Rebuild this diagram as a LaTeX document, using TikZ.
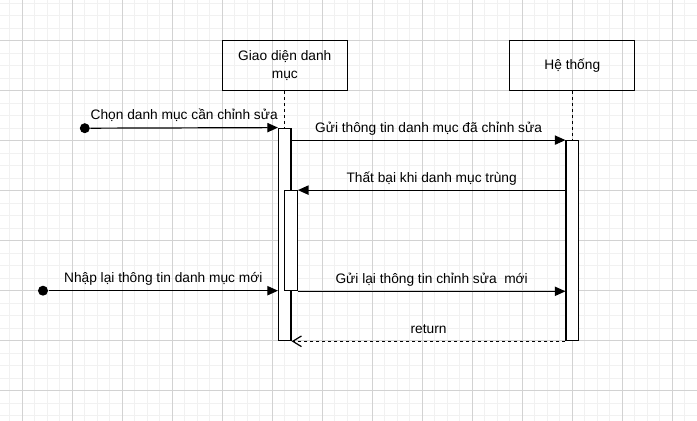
\documentclass[tikz,border=0pt]{standalone}
\usepackage{fontspec}
\setmainfont{Liberation Sans}
\usetikzlibrary{arrows.meta}
\definecolor{gridminor}{RGB}{241,241,241}
\definecolor{gridmajor}{RGB}{210,210,210}

\begin{document}
\begin{tikzpicture}[x=0.75pt, y=-0.75pt, line width=0.9pt,
    font=\fontsize{10.3}{13.5}\selectfont,
    actor/.style={draw, minimum width=93.75pt, minimum height=37.5pt, inner sep=0pt, align=center},
    bar/.style={draw, fill=white, minimum width=9.375pt, inner sep=0pt},
    dot/.style={circle, fill, inner sep=0pt, minimum size=7.5pt},
    msg/.style={-{Triangle[length=8pt,width=7pt]}},
    reply/.style={dash pattern=on 2.25pt off 2.25pt, -{Straight Barb[length=6.5pt,width=8pt]}},
    lbl/.style={midway, inner sep=0pt, text height=7.4pt, text depth=0pt, yshift=9.75pt}]
  \useasboundingbox (0,0) rectangle (697,421);
  % grid
  \foreach \i in {0,...,55} \draw[gridminor, line width=0.75pt] ({9.8+12.5*\i},0) -- ({9.8+12.5*\i},421);
  \foreach \i in {0,...,33} \draw[gridminor, line width=0.75pt] (0,{3.2+12.5*\i}) -- (697,{3.2+12.5*\i});
  \foreach \i in {0,...,13} \draw[gridmajor, line width=0.75pt] ({22.3+50*\i},0) -- ({22.3+50*\i},421);
  \foreach \i in {0,...,7} \draw[gridmajor, line width=0.75pt] (0,{40.7+50*\i}) -- (697,{40.7+50*\i});

  \node[actor] (ui) at (284.8,65.7) {Giao diện danh\\mục};
  \node[actor] (sys) at (572.3,65.7) {Hệ thống};
  \node[bar, minimum height=159.375pt] (uiact) at (284.8,234.45) {};
  \node[bar, minimum height=75pt] (uinest) at (291.05,240.7) {};
  \node[bar, minimum height=150pt] (sysact) at (572.3,240.7) {};
  \node[dot] (start1) at (84.8,128.2) {};
  \node[dot] (start2) at (43,290.7) {};

  \draw[dash pattern=on 2.25pt off 2.25pt] (ui.south) -- (uiact.north);
  \draw[dash pattern=on 2.25pt off 2.25pt] (sys.south) -- (sysact.north);

  \draw[msg] (start1) -- (uiact.north west) node[lbl] {Chọn danh mục cần chỉnh sửa};
  \draw[msg] (uiact.east |- sysact.north) -- (sysact.north west) node[lbl] {Gửi thông tin danh mục đã chỉnh sửa};
  \draw[msg] (sysact.west |- uinest.north) -- (uinest.north east) node[lbl] {Thất bại khi danh mục trùng};
  \draw[msg] (start2) -- (uiact.west |- start2) node[lbl] {Nhập lại thông tin danh mục mới};
  \draw[msg] (uinest.south east) -- (sysact.west |- uinest.south) node[lbl] {Gửi lại thông tin chỉnh sửa~ mới};
  \draw[reply] (sysact.south west) -- (uiact.south east) node[lbl] {return};
\end{tikzpicture}
\end{document}
